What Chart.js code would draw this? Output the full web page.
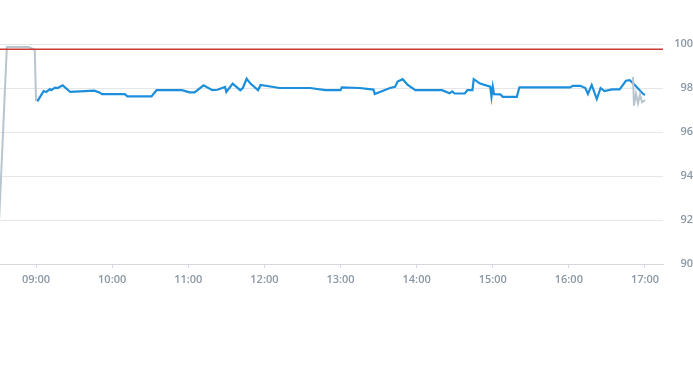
<!DOCTYPE html>
<html>
<head>
<meta charset="utf-8">
<script src="https://cdn.jsdelivr.net/npm/chart.js@4"></script>
<style>
html,body{margin:0;padding:0;background:#fff;}
#wrap{width:693px;height:365px;position:relative;}
</style>
</head>
<body>
<div id="wrap"><canvas id="c"></canvas></div>
<script>
// ---- data ----
const hourTicks = ["09:00","10:00","11:00","12:00","13:00","14:00","15:00","16:00","17:00"];
const yTicks = [90, 92, 94, 96, 98, 100];

const mainTimes = ["09:01","09:06","09:08","09:11","09:12","09:15","09:17","09:21","09:27","09:46","09:50","09:52",
  "10:10","10:12","10:31","10:35","10:55","11:01","11:05","11:12","11:19","11:23","11:29","11:30","11:35","11:41",
  "11:43","11:46","11:49","11:55","11:57","12:12","12:36","12:48","13:00","13:01","13:15","13:26","13:27","13:39",
  "13:43","13:45","13:49","13:53","13:59","14:20","14:26","14:28","14:30","14:38","14:40","14:44","14:45","14:50",
  "14:58","14:59","15:00","15:01","15:06","15:08","15:19","15:21","16:01","16:03","16:09","16:13","16:15","16:18",
  "16:22","16:25","16:28","16:34","16:40","16:45","16:48","16:52","16:58","17:00"];
const mainValues = [97.39,97.86,97.82,97.95,97.9,98.02,98.0,98.12,97.82,97.88,97.8,97.72,
  97.72,97.62,97.62,97.9,97.9,97.8,97.8,98.12,97.9,97.92,98.05,97.82,98.2,97.9,
  98.0,98.42,98.2,97.9,98.14,98.0,98.0,97.9,97.9,98.03,98.0,97.93,97.73,98.0,
  98.05,98.29,98.4,98.14,97.9,97.9,97.76,97.85,97.75,97.75,97.9,97.9,98.4,98.2,
  98.06,97.6,98.06,97.72,97.71,97.6,97.6,98.03,98.03,98.1,98.1,98.0,97.73,98.14,
  97.5,98.0,97.86,97.94,97.94,98.33,98.36,98.14,97.76,97.68];

const extTimes = ["08:31","08:37","08:54","08:59","09:00","12:00",
  "16:50:33","16:51:20","16:52:55","16:54:30","16:56:05","16:57:40","17:00"];
const extValues = [92.1,99.86,99.86,99.74,97.4,null,
  98.5,97.2,97.75,97.3,97.7,97.35,97.45];

const refTimes = ["08:20","17:30"];
const refValues = [99.76,99.76];

// ---- helpers ----
function toMin(s){const p=s.split(":").map(Number);return p[0]*60+p[1]+(p[2]||0)/60;}
function fmt(m){const h=Math.floor(m/60),mm=Math.round(m%60);return String(h).padStart(2,"0")+":"+String(mm).padStart(2,"0");}
function pts(ts,vs){return ts.map((t,i)=>({x:toMin(t),y:vs[i]}));}

const tickFont = {family:"'Open Sans', sans-serif", size:11, weight:'600'};
const tickColor = '#8a97a4';

new Chart(document.getElementById('c'), {
  type:'line',
  data:{datasets:[
    {data:pts(mainTimes,mainValues), borderColor:'#1b8fdb', borderWidth:2.2, pointRadius:0, tension:0, fill:false, order:3},
    {data:pts(extTimes,extValues), borderColor:'#b9c5cd', borderWidth:2, pointRadius:0, tension:0, spanGaps:false, fill:false, order:2},
    {data:pts(refTimes,refValues), borderColor:'#cc3b36', borderWidth:1.5, pointRadius:0, tension:0, fill:false, order:1}
  ]},
  options:{
    responsive:true, maintainAspectRatio:false, animation:false,
    layout:{padding:{top:44,bottom:71,left:0,right:0}},
    plugins:{legend:{display:false}, tooltip:{enabled:false}},
    scales:{
      x:{type:'linear', min:511.6, max:1034.2,
        afterBuildTicks:(ax)=>{ax.ticks=hourTicks.map(t=>({value:toMin(t)}));},
        afterFit:(ax)=>{ax.height=30;},
        grid:{drawOnChartArea:false, drawTicks:true, tickLength:4, color:'#d5d9dd'},
        border:{display:true, color:'#d5d9dd'},
        ticks:{callback:(v)=>fmt(v), font:tickFont, color:tickColor, padding:5, maxRotation:0, autoSkip:false}
      },
      y:{position:'right', min:90, max:100,
        afterBuildTicks:(ax)=>{ax.ticks=yTicks.map(v=>({value:v}));},
        afterFit:(ax)=>{ax.width=30;},
        grid:{color:'#e4e6e8', drawTicks:false},
        border:{display:false},
        ticks:{font:tickFont, color:tickColor, padding:12, crossAlign:'far'}
      }
    }
  }
});
</script>
</body>
</html>
